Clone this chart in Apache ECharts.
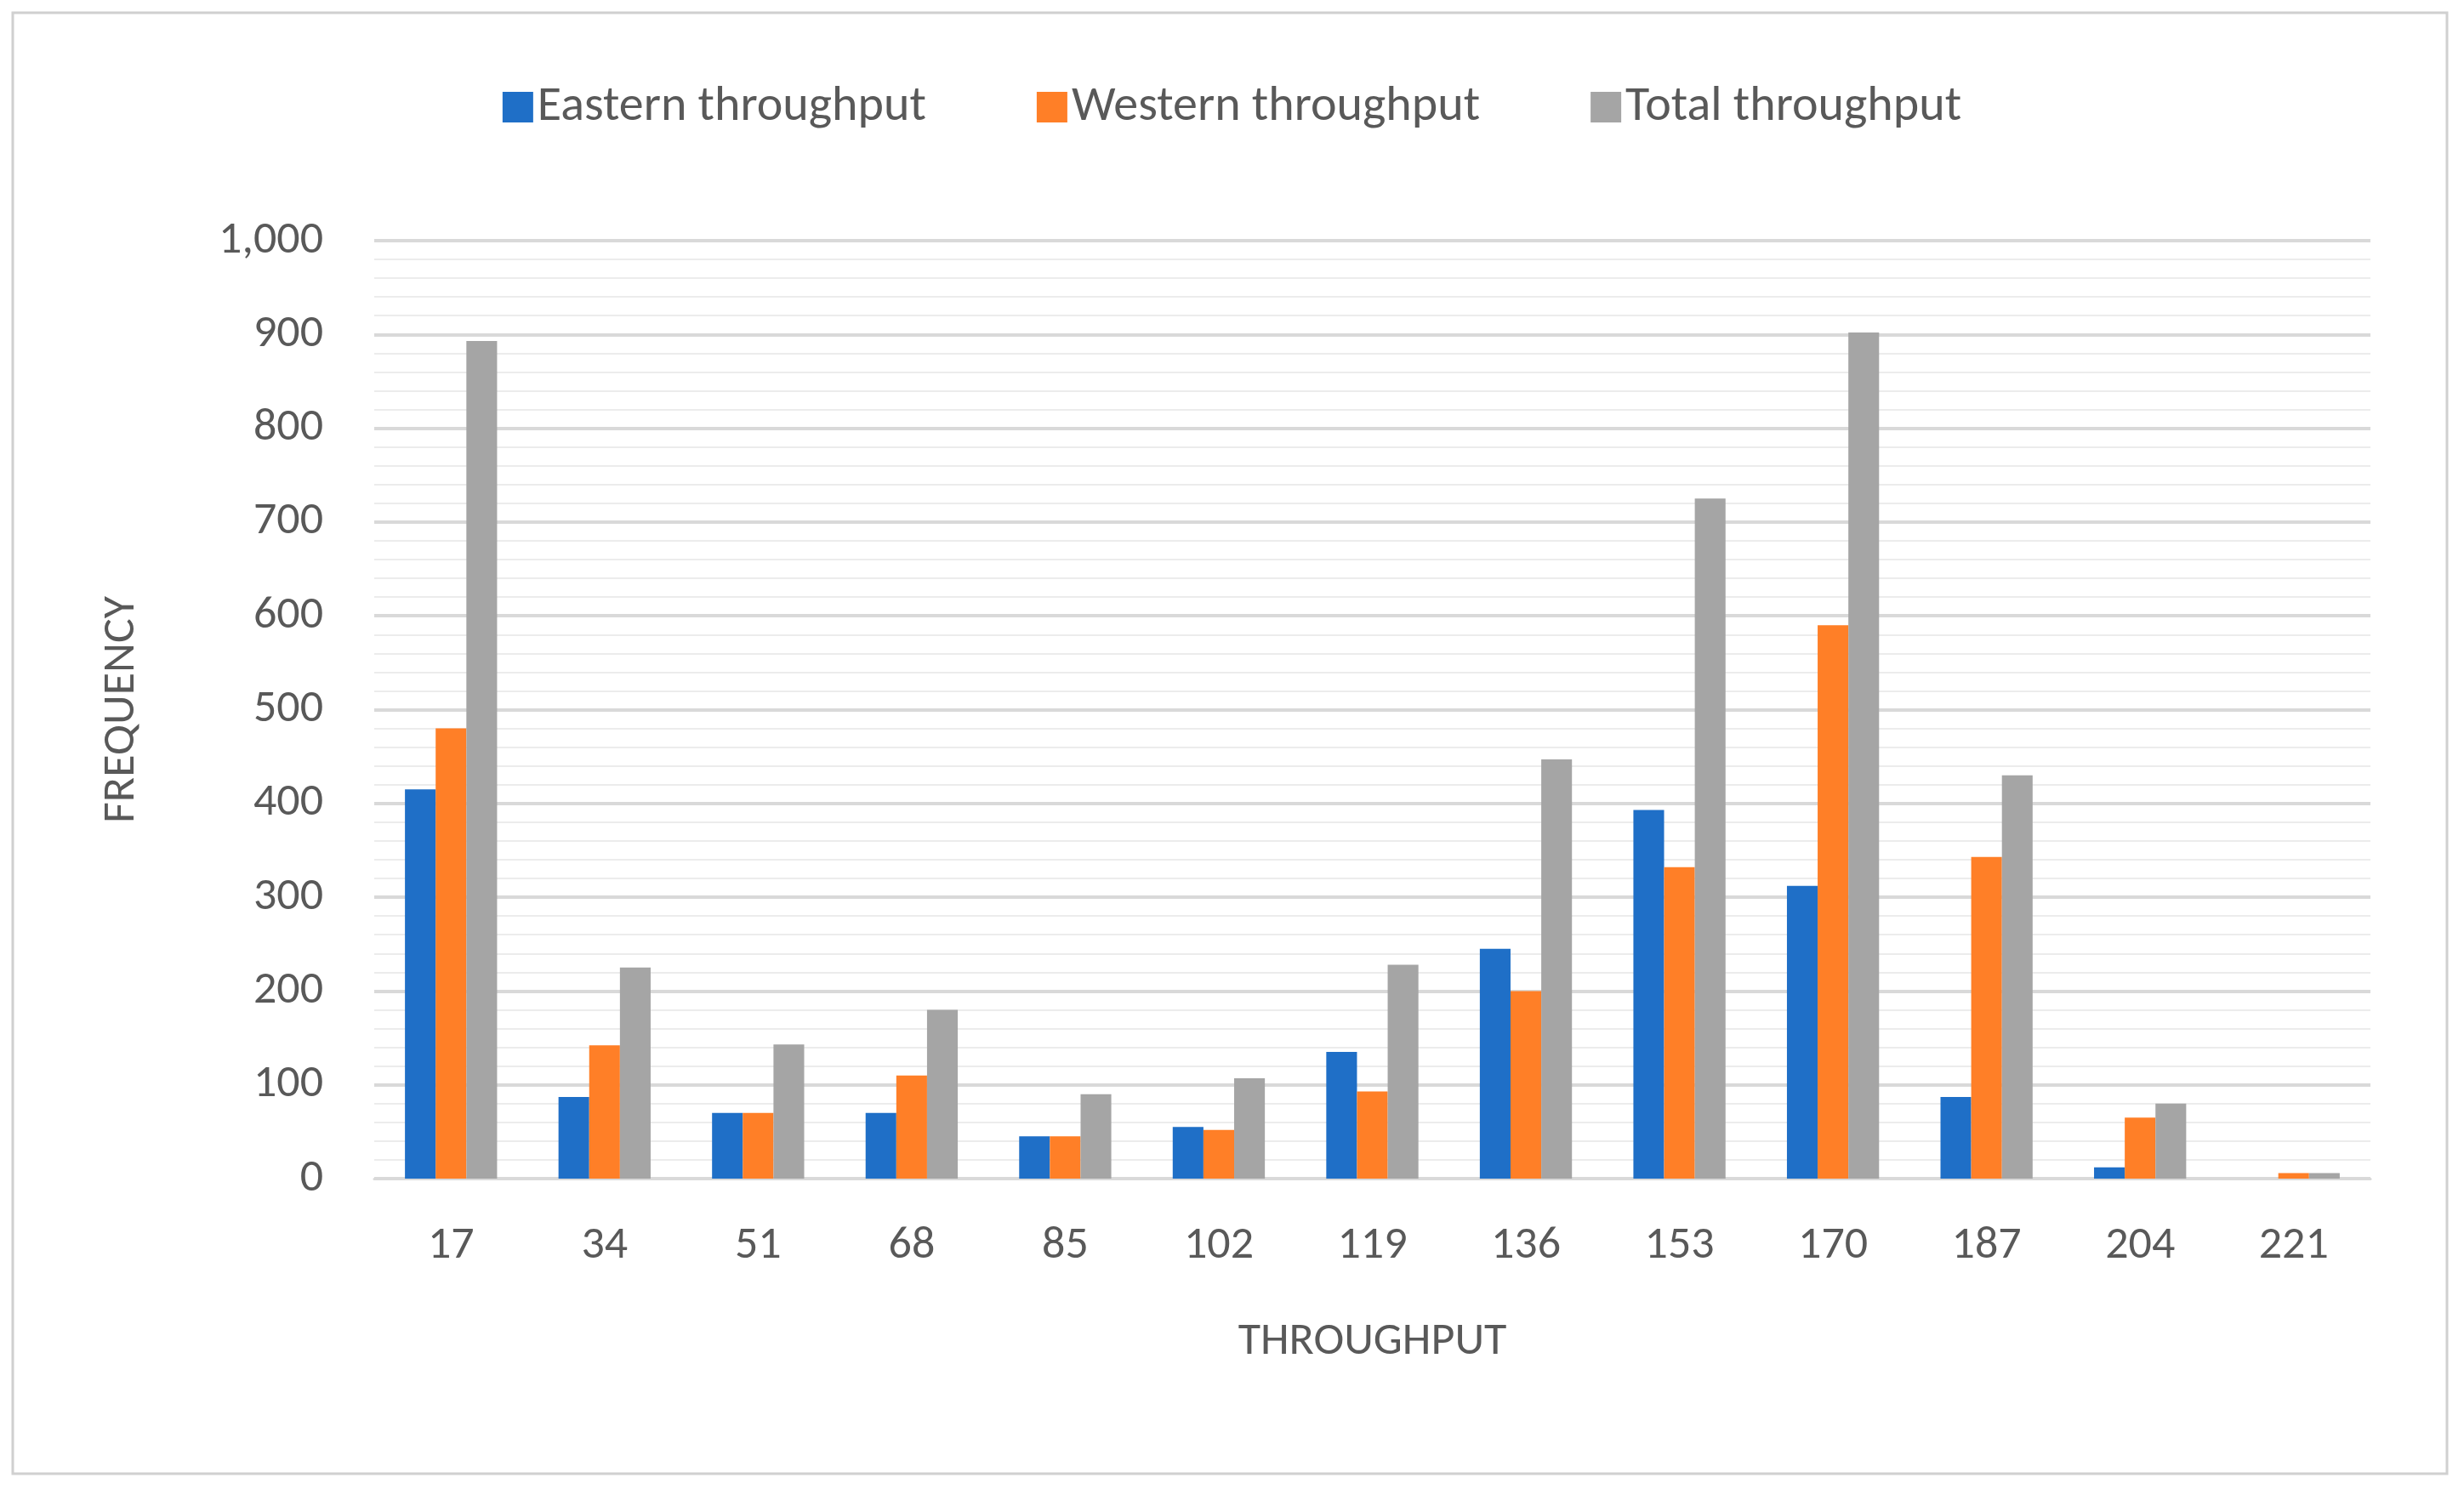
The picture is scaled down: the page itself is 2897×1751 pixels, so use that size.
<!DOCTYPE html>
<html><head><meta charset="utf-8">
<script src="https://cdn.jsdelivr.net/npm/echarts@6/dist/echarts.min.js"></script>
<style>html,body{margin:0;padding:0;background:#fff}#c{width:2897px;height:1751px}</style>
</head><body><div id="c"></div>
<script>
const categories = ['17','34','51','68','85','102','119','136','153','170','187','204','221'];
const eastern = [415,87,70,70,45,55,135,245,393,312,87,12,0];
const western = [480,142,70,110,45,52,93,200,332,590,343,65,6];
const total = [893,225,143,180,90,107,228,447,725,902,430,80,6];
const font = 'Calibri, Carlito, "Open Sans", sans-serif';
const chart = echarts.init(document.getElementById('c'));
chart.setOption({
  animation:false,
  textStyle:{fontFamily:font},
  graphic:[{type:'rect',shape:{x:15,y:15,width:2862,height:1718},style:{fill:'none',stroke:'#d0d0d0',lineWidth:3}}],
  legend:{top:92,left:'center',itemGap:130,itemWidth:36,itemHeight:36,icon:'rect',
    textStyle:{fontSize:58,color:'#595959',fontFamily:font}},
  grid:{left:440,right:110,top:283,bottom:365,containLabel:false},
  xAxis:{type:'category',data:categories,name:'THROUGHPUT',nameLocation:'middle',nameGap:165,
    nameTextStyle:{fontSize:54,color:'#595959'},
    axisLine:{lineStyle:{color:'#d9d9d9',width:3}},axisTick:{show:false},
    axisLabel:{fontSize:54,color:'#595959',margin:52}},
  yAxis:{type:'value',min:0,max:1000,interval:100,name:'FREQUENCY',nameLocation:'middle',nameGap:270,
    nameTextStyle:{fontSize:54,color:'#595959'},
    axisLabel:{fontSize:54,color:'#595959',margin:60},
    splitLine:{lineStyle:{color:'#d9d9d9',width:4}},
    minorTick:{show:false,splitNumber:5},
    minorSplitLine:{show:true,lineStyle:{color:'#ececec',width:2}}},
  series:[
    {name:'Eastern throughput',type:'bar',data:eastern,itemStyle:{color:'#1f6fc7'},barGap:'0%',barCategoryGap:'40%'},
    {name:'Western throughput',type:'bar',data:western,itemStyle:{color:'#ff7f27'}},
    {name:'Total throughput',type:'bar',data:total,itemStyle:{color:'#a5a5a5'}}
  ]
});
</script></body></html>
